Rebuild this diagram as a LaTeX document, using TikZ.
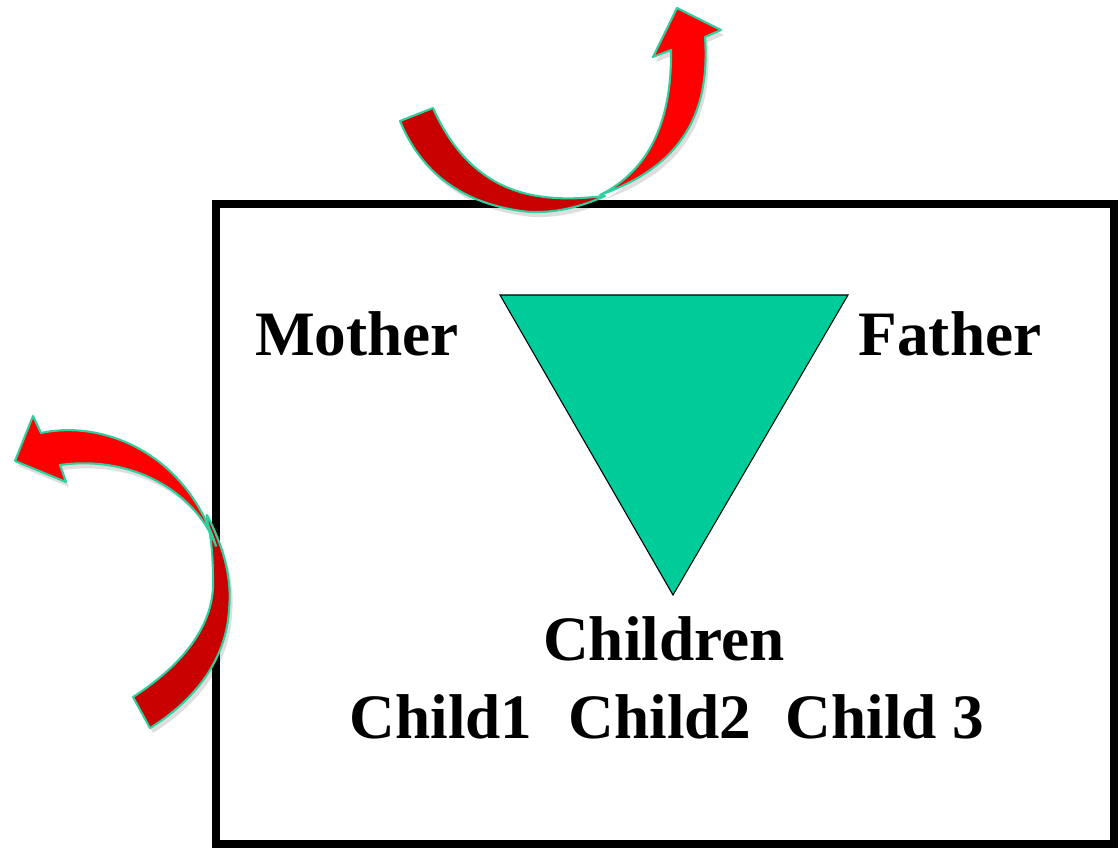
\documentclass[tikz,border=0pt]{standalone}
\usepackage{fontspec}
\setmainfont{Liberation Serif}
\definecolor{famgreen}{HTML}{00CC99}
\definecolor{rimteal}{HTML}{2FCFA0}
\definecolor{darkband}{HTML}{C80000}
\definecolor{brightband}{HTML}{FF0000}
\tikzset{
  label/.style={font=\bfseries\fontsize{36}{40}\selectfont, inner sep=0pt, anchor=base},
  band/.style={draw=rimteal, line width=1.2pt, line join=round},
  shade/.style={fill=black, opacity=0.13, draw=none, shift={(3,5)}}
}
% outlines of the two curved arrows
\newcommand{\topback}{(400,121) .. controls (420,170) and (460,205) .. (530,212) .. controls (560,213) and (585,205) .. (605,196)
	.. controls (585,198) and (570,199) .. (557,198) .. controls (515,196) and (465,180) .. (433,108) -- cycle}
\newcommand{\topfront}{(600,195) .. controls (685,165) and (710,110) .. (705,37) -- (721,30) -- (677,8) -- (653,57) -- (671,50)
	.. controls (672,120) and (650,170) .. (600,195) -- cycle}
\newcommand{\leftback}{(207,515) .. controls (225,550) and (232,580) .. (229,610) .. controls (226,660) and (195,700) .. (150,728) -- (133,697)
	.. controls (175,670) and (215,630) .. (213,580) .. controls (213,555) and (211,535) .. (207,520) -- cycle}
\newcommand{\leftfront}{(216,546) .. controls (195,490) and (130,455) .. (60,465) -- (66,482) -- (15,461) -- (33,416) -- (41,433)
	.. controls (100,420) and (185,450) .. (216,546) -- cycle}
\begin{document}
\begin{tikzpicture}[x=0.02cm, y=-0.02cm]
	\useasboundingbox (0,0) rectangle (1120,849);
	% the family box
	\draw[line width=4.6pt] (216,204) rectangle (1114,844);
	% triangle
	\draw[fill=famgreen, draw=black, line width=0.6pt] (500,295) -- (848,295) -- (673,595) -- cycle;
	% names
	\node[label] (mother) at (357,355) {Mother};
	\node[label] (father) at (950,355) {Father};
	\node[label] (children) at (664,660) {Children};
	\foreach \x/\name/\txt in {441/childa/Child1, 660/childb/Child2, 885/childc/Child 3} {
		\node[label] (\name) at (\x,738) {\txt};
	}
	% top arrow
	\fill[shade] \topback;
	\fill[shade] \topfront;
	\draw[band, fill=darkband] \topback;
	\draw[band, fill=brightband] \topfront;
	% left arrow
	\fill[shade] \leftback;
	\fill[shade] \leftfront;
	\draw[band, fill=darkband] \leftback;
	\draw[band, fill=brightband] \leftfront;
\end{tikzpicture}
\end{document}
